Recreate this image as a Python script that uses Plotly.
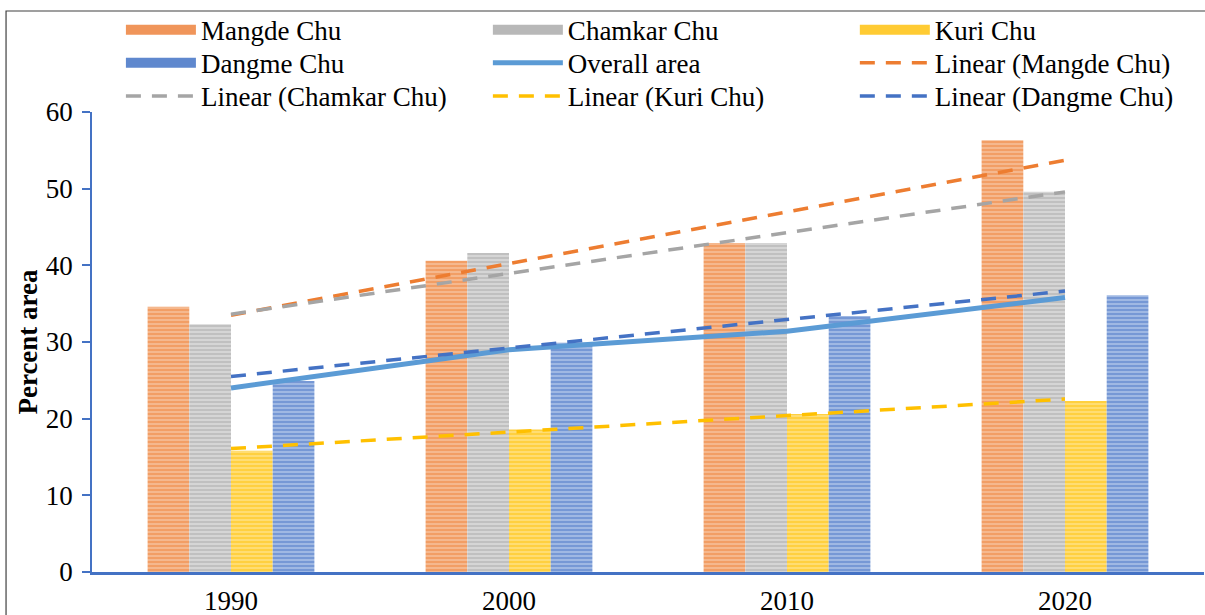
import numpy as np
import plotly.graph_objects as go

years = ["1990", "2000", "2010", "2020"]
mangde = [34.6, 40.6, 42.9, 56.3]
chamkar = [32.3, 41.6, 42.9, 49.6]
kuri = [15.8, 18.6, 20.6, 22.3]
dangme = [24.9, 29.9, 33.4, 36.1]
overall = [24.0, 29.0, 31.4, 35.8]

series = [
    ("Mangde Chu", mangde, "#ED7D31", "#F6BE98", "#F0955A"),
    ("Chamkar Chu", chamkar, "#A5A5A5", "#DADADA", "#B8B8B8"),
    ("Kuri Chu", kuri, "#FFC000", "#FFE080", "#FFCB33"),
    ("Dangme Chu", dangme, "#4472C4", "#A9BFE6", "#5F88CE"),
]

FONT = "Liberation Serif"
FS = 27

# legend slots: 3 rows x 3 columns, filled row by row
legend_names = ["Mangde Chu", "Chamkar Chu", "Kuri Chu",
                "Dangme Chu", "Overall area", "Linear (Mangde Chu)",
                "Linear (Chamkar Chu)", "Linear (Kuri Chu)", "Linear (Dangme Chu)"]
col_x = [0.026, 0.356, 0.686]
row_y = [1.178, 1.106, 1.034]


def legend_id(name):
    i = legend_names.index(name)
    return "legend" if i == 0 else f"legend{i + 1}"


fig = go.Figure()

for name, vals, col, light, mid in series:
    fig.add_trace(go.Bar(
        x=years, y=vals, name=name, showlegend=False,
        marker=dict(color=light, line=dict(width=0),
                    pattern=dict(shape="-", fgcolor=col, bgcolor=light,
                                 size=4, solidity=0.6, fillmode="overlay")),
    ))
    # wide key for the bar series
    fig.add_trace(go.Scatter(x=[None], y=[None], name=name, mode="lines",
                             legend=legend_id(name),
                             line=dict(color=mid, width=12)))

fig.add_trace(go.Scatter(x=years, y=overall, name="Overall area", mode="lines",
                         legend=legend_id("Overall area"),
                         line=dict(color="#5B9BD5", width=5)))

# linear trendlines fitted to each river's bars
idx = np.arange(len(years))
for name, vals, col, light, mid in series:
    k, b = np.polyfit(idx, vals, 1)
    lname = f"Linear ({name})"
    fig.add_trace(go.Scatter(x=years, y=k * idx + b, name=lname, mode="lines",
                             legend=legend_id(lname),
                             line=dict(color=col, width=3.5, dash="15px,11px")))

legends = {}
for i, nm in enumerate(legend_names):
    key = "legend" if i == 0 else f"legend{i + 1}"
    legends[key] = dict(x=col_x[i % 3], y=row_y[i // 3], xanchor="left", yanchor="middle",
                        orientation="v", itemwidth=70, bgcolor="rgba(0,0,0,0)",
                        font=dict(family=FONT, size=FS, color="black"))

fig.update_layout(
    width=1205, height=615,
    margin=dict(l=92, r=1, t=112, b=43, autoexpand=False),
    paper_bgcolor="white", plot_bgcolor="white",
    font=dict(family=FONT, size=FS, color="black"),
    barmode="group", bargap=0.4, bargroupgap=0,
    showlegend=True,
    xaxis=dict(type="category", showline=True, linecolor="#4472C4", linewidth=3,
               ticks="", showgrid=False, automargin=False,
               tickfont=dict(family=FONT, size=FS), ticklabelstandoff=3),
    yaxis=dict(range=[0, 60], dtick=10, showline=True, linecolor="#4472C4", linewidth=1.5,
               ticks="outside", tickcolor="#4472C4", ticklen=8, tickwidth=1.5,
               showgrid=False, zeroline=False, automargin=False, ticklabelstandoff=4,
               tickfont=dict(family=FONT, size=FS),
               title=dict(text="<b>Percent area</b>", font=dict(family=FONT, size=FS), standoff=0)),
    shapes=[dict(type="rect", xref="paper", yref="paper", x0=-0.0773, x1=1.01,
                 y0=-0.3, y1=1.2196, line=dict(color="#404040", width=1.2),
                 fillcolor="rgba(0,0,0,0)", layer="below")],
    **legends,
)

fig.write_html("out.html")
